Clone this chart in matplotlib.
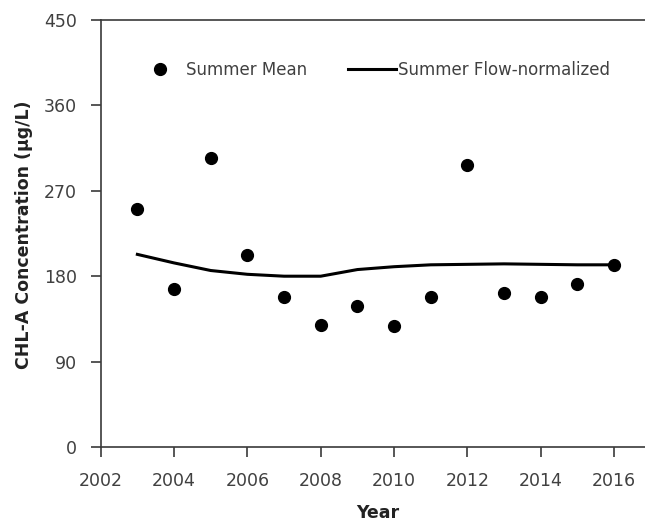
import matplotlib
matplotlib.use("Agg")
import matplotlib.pyplot as plt

years = [2003, 2004, 2005, 2006, 2007, 2008, 2009, 2010, 2011, 2012, 2013, 2014, 2015, 2016]
summer_mean = [251, 167, 305, 202, 158, 129, 149, 127, 158, 297, 162, 158, 172, 192]
flow_normalized = [203, 194, 186, 182, 180, 180, 187, 190, 192, 192.5, 193, 192.5, 192, 192]
x_ticks = [2002, 2004, 2006, 2008, 2010, 2012, 2014, 2016]
y_ticks = [0, 90, 180, 270, 360, 450]

W, H = 645, 527
fig = plt.figure(figsize=(W / 100, H / 100), dpi=100)
left, right, bottom, top = 100.7, 645, 447, 20
ax = fig.add_axes([left / W, 1 - bottom / H, (right - left) / W, (bottom - top) / H])

txt = '#404040'
spine_c = '#3a3a3a'

pts, = ax.plot(years, summer_mean, linestyle='none', marker='o', markersize=8.5,
               color='black', label='Summer Mean', zorder=3)
ln, = ax.plot(years, flow_normalized, color='black', linewidth=2.2,
              label='Summer Flow-normalized', zorder=2)

ax.set_xlim(2002, 2002 + (right - left) / 36.67)
ax.set_ylim(0, 450)
ax.set_xticks(x_ticks)
ax.set_yticks(y_ticks)
ax.tick_params(axis='both', direction='out', length=7, width=1.2, color=spine_c,
               labelcolor=txt, labelsize=12.5)
ax.tick_params(axis='x', pad=11)
ax.tick_params(axis='y', pad=10)

for s in ['left', 'bottom', 'top']:
    ax.spines[s].set_color(spine_c)
    ax.spines[s].set_linewidth(1.2)
ax.spines['right'].set_visible(False)

fig.text(24 / W, 1 - 235 / H, 'CHL-A Concentration (µg/L)', rotation=90,
         ha='center', va='center', fontsize=12.5, fontweight='bold', color='#222222')
fig.text(378 / W, 1 - 513 / H, 'Year', ha='center', va='center',
         fontsize=12.5, fontweight='bold', color='#222222')

leg = fig.legend(handles=[pts, ln], loc='center left', ncol=2,
                 bbox_to_anchor=(136 / W, 1 - 70 / H), bbox_transform=fig.transFigure,
                 frameon=False, fontsize=12, handlelength=2.88, handletextpad=0.15,
                 columnspacing=2.4, borderpad=0, borderaxespad=0, numpoints=1)
for t in leg.get_texts():
    t.set_color(txt)

fig.savefig('out.png', dpi=100)
